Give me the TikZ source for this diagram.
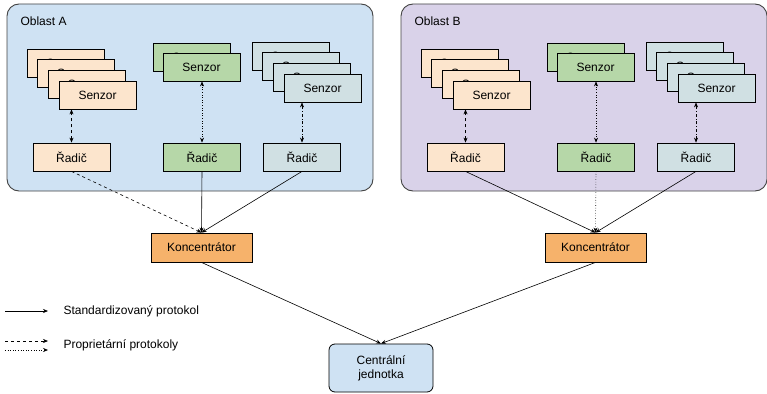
\documentclass[tikz,border=0pt]{standalone}
\usepackage{fontspec}
\setmainfont{Liberation Sans}
\usepackage{tikz}
\usetikzlibrary{positioning,arrows.meta}
\definecolor{RegionBlue}{HTML}{CFE2F3}
\definecolor{RegionPurple}{HTML}{D9D2E9}
\definecolor{SensOrange}{HTML}{FCE5CD}
\definecolor{SensGreen}{HTML}{B6D7A8}
\definecolor{SensGrey}{HTML}{D0E0E3}
\definecolor{HubOrange}{HTML}{F6B26B}
\definecolor{FrameGrey}{HTML}{434343}

\begin{document}
\begin{tikzpicture}[x=1pt,y=-1pt,
    font=\fontsize{12}{14}\selectfont,
    box/.style={rectangle,draw,line width=0.8pt,minimum width=77pt,minimum height=28pt,inner sep=0pt},
    region/.style={draw=FrameGrey,line width=0.9pt,rounded corners=12pt},
    link/.style={-{Stealth[length=5pt,width=4pt]},line width=0.6pt},
    both/.style={{Stealth[length=5pt,width=4pt]}-{Stealth[length=5pt,width=4pt]},line width=0.6pt}]
    \useasboundingbox (0,0) rectangle (767,393);

    % Two areas, B is A moved to the right
    \foreach \dx/\r/\rc/\os/\gs in {0/A/RegionBlue/dashed/solid,394/B/RegionPurple/solid/dotted} {
        \draw[region,fill=\rc] ({7+\dx},4) rectangle ({373+\dx},191);
        \node[anchor=west] (label\r) at ({17+\dx},21) {Oblast \r};

        % Sensor stacks
        \foreach \i in {0,...,3}
            \node[box,fill=SensOrange] (s\r o\i) at ({65.5+10.67*\i+\dx},{63+10.67*\i}) {Senzor};
        \foreach \i in {0,1}
            \node[box,fill=SensGreen] (s\r g\i) at ({191.5+10*\i+\dx},{57+10*\i}) {Senzor};
        \foreach \i in {0,...,3}
            \node[box,fill=SensGrey] (s\r b\i) at ({290.5+10.67*\i+\dx},{56+10.67*\i}) {Senzor};

        % Controllers
        \node[box,fill=SensOrange] (radic\r o) at ({71.5+\dx},157) {Řadič};
        \node[box,fill=SensGreen] (radic\r g) at ({202+\dx},157) {Řadič};
        \node[box,fill=SensGrey] (radic\r b) at ({302+\dx},157) {Řadič};

        \draw[both,dashed] (radic\r o.north) -- (radic\r o.north |- s\r o3.south);
        \draw[both,dotted] (radic\r g.north) -- (radic\r g.north |- s\r g1.south);
        \draw[both,dash dot] (radic\r b.north) -- (radic\r b.north |- s\r b3.south);

        % Hub
        \node[box,fill=HubOrange,minimum width=101pt,minimum height=29pt] (hub\r) at ({201.5+\dx},247.5) {Koncentrátor};
        \draw[link,\os] (radic\r o.south) -- (hub\r.north);
        \draw[link,\gs] (radic\r g.south) -- (hub\r.north);
        \draw[link] (radic\r b.south) -- (hub\r.north);
    }

    % Central unit
    \node[box,fill=RegionBlue,rounded corners=6pt,minimum width=104pt,minimum height=48pt,align=center] (central) at (381,368) {Centrální\\jednotka};
    \draw[link] (hubA.south) -- (central.north);
    \draw[link] (hubB.south) -- (central.north);

    % Legend
    \coordinate (stdL) at (5,311);
    \coordinate (stdR) at (48,311);
    \coordinate (dashL) at (5,341);
    \coordinate (dashR) at (48,341);
    \coordinate (dotL) at (5,350);
    \coordinate (dotR) at (48,350);
    \draw[link] (stdL) -- (stdR);
    \draw[link,dashed] (dashL) -- (dashR);
    \draw[link,dotted] (dotL) -- (dotR);
    \node[anchor=west] (stdtext) at (60,311) {Standardizovaný protokol};
    \node[anchor=west] (proptext) at (60,345) {Proprietární protokoly};
\end{tikzpicture}
\end{document}
